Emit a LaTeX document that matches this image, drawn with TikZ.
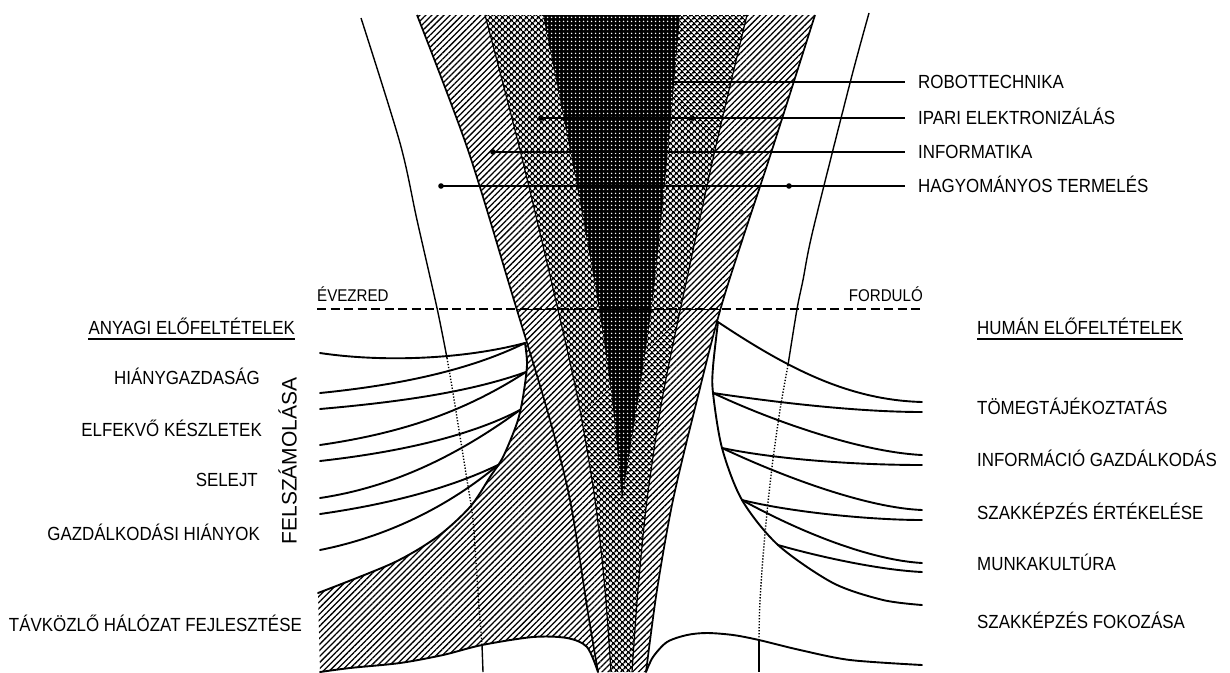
\documentclass[tikz,border=0pt]{standalone}
\usepackage{fontspec}
\usepackage{graphicx}
\setmainfont{Liberation Sans}
\usetikzlibrary{patterns.meta}
\newcommand{\narrowtxt}[1]{\scalebox{0.89}[1]{#1}}
\tikzset{
  hatchfill/.style={pattern={Lines[angle=45,distance=4.3pt,line width=1.3pt]},pattern color=black},
  crossfill/.style={pattern={Hatch[angle=45,distance=4pt,line width=1.7pt]},pattern color=black},
  dotfill/.style={pattern={Dots[distance=4pt,radius=0.95pt]},pattern color=white},
  edge/.style={line width=1.7pt,line join=round},
  inedge/.style={line width=1.2pt},
  fan/.style={line width=1.9pt,line cap=round},
  thinv/.style={line width=1.4pt},
  dotv/.style={line width=1.4pt,dash pattern=on 1.3pt off 1.7pt},
  dashline/.style={line width=1.4pt,dash pattern=on 9pt off 4.5pt},
  lbline/.style={line width=1.1pt},
  lbdot/.style={fill=black},
  lbl/.style={font=\fontsize{19}{22}\selectfont,inner sep=0pt,text height=13.6pt,text depth=0pt},
  toplbl/.style={font=\fontsize{19}{22}\selectfont,inner xsep=13pt,inner ysep=0pt,text height=13.4pt,text depth=0pt,anchor=west},
  smlbl/.style={font=\fontsize{17}{20}\selectfont,inner sep=0pt,text height=12.2pt,text depth=0pt},
}
\begin{document}
\begin{tikzpicture}[x=1pt,y=-1pt]
\useasboundingbox (0,0) rectangle (1230,672);
\fill[white] (0,0) rectangle (1230,672);

% left widened hatched region
\fill[hatchfill] plot[smooth] coordinates {(525,343) (527,365) (523,397) (517,423) (503,457) (490,477) (470,507) (437,537) (393,563) (318,593)}
  -- (320,672) -- plot[smooth] coordinates {(320,672) (350,668) (400,663) (443,655) (482,645) (533,637) (567,638) (587,647) (598,672)}
  -- plot[smooth] coordinates {(598,672) (588,613) (570,500) (548,413) (527,343)} -- cycle;

% funnel bands
\fill[hatchfill] plot[smooth] coordinates {(417,15) (468,150) (513,297) (548,413) (570,500) (588,613) (598,672)}
  -- plot[smooth] coordinates {(611,672) (605,590) (595,500) (578,400) (555,297) (520,150) (485,15)} -- cycle;
\fill[hatchfill] plot[smooth] coordinates {(747,15) (715,150) (683,297) (662,400) (647,500) (638,590) (632,672)}
  -- plot[smooth] coordinates {(646,672) (657,590) (673,500) (697,400) (724,297) (772,150) (815,15)} -- cycle;
\fill[crossfill] plot[smooth] coordinates {(485,15) (520,150) (555,297) (578,400) (595,500) (605,590) (611,672)}
  -- plot[smooth] coordinates {(632,672) (638,590) (647,500) (662,400) (683,297) (715,150) (747,15)} -- cycle;
\fill[black] plot[smooth] coordinates {(543,15) (570,150) (597,297) (612,400) (622,500)}
  -- plot[smooth] coordinates {(622,500) (638,400) (653,297) (668,150) (680,15)} -- cycle;
\fill[dotfill] plot[smooth] coordinates {(543,15) (570,150) (597,297) (612,400) (622,500)}
  -- plot[smooth] coordinates {(622,500) (638,400) (653,297) (668,150) (680,15)} -- cycle;

% funnel edges
\draw[edge] plot[smooth] coordinates {(417,15) (468,150) (513,297) (548,413) (570,500) (588,613) (598,672)};
\draw[edge] plot[smooth] coordinates {(815,15) (772,150) (724,297) (697,400) (673,500) (657,590) (646,672)};
\draw[inedge] plot[smooth] coordinates {(485,15) (520,150) (555,297) (578,400) (595,500) (605,590) (611,672)};
\draw[inedge] plot[smooth] coordinates {(747,15) (715,150) (683,297) (662,400) (647,500) (638,590) (632,672)};

% millennium line
\coordinate (dashL) at (317,309);
\coordinate (dashR) at (922,309);
\draw[dashline] (dashL) -- (dashR);
\draw[line width=0.9pt] (517,309) -- (721,309);
\node[smlbl,anchor=west] (evezred) at (317,295) {\narrowtxt{ÉVEZRED}};
\node[smlbl,anchor=east] (fordulo) at (923,295) {\narrowtxt{FORDULÓ}};

% thin side lines
\draw[thinv] plot[smooth] coordinates {(361,18) (400,143) (417,220) (437,308) (447,358)};
\draw[dotv] plot[smooth] coordinates {(447,358) (453,393) (467,480) (473,520) (478,593) (482,645)};
\draw[thinv] (482,645) -- (483,672);
\draw[thinv] plot[smooth] coordinates {(869,13) (850,83) (813,230) (803,280) (797,309) (788,365)};
\draw[dotv] plot[smooth] coordinates {(788,365) (780,410) (772,467) (765,533) (760,600) (759,640)};
\draw[thinv] (759,640) -- (759,672);

% left fan
\coordinate (P1) at (525,343);
\coordinate (P2) at (526,372);
\coordinate (P3) at (520,410);
\coordinate (P4) at (498,465);
\draw[fan] plot[smooth] coordinates {(525,343) (527,365) (523,397) (517,423) (503,457) (490,477) (470,507) (437,537) (393,563) (318,593)};
\draw[fan] (320,353) .. controls (380,362) and (460,360) .. (P1);
\draw[fan] (320,393) .. controls (400,385) and (470,370) .. (P1);
\draw[fan] (320,409) .. controls (400,402) and (470,392) .. (P2);
\draw[fan] (320,445) .. controls (410,432) and (470,408) .. (P2);
\draw[fan] (320,461) .. controls (400,452) and (470,436) .. (P3);
\draw[fan] (320,498) .. controls (400,486) and (465,450) .. (P3);
\draw[fan] (320,514) .. controls (390,504) and (450,488) .. (P4);
\draw[fan] (320,550) .. controls (390,536) and (450,505) .. (P4);

% right fan
\coordinate (Q0) at (718,322);
\coordinate (Q1) at (713,393);
\coordinate (Q2) at (722,448);
\coordinate (Q3) at (742,500);
\coordinate (Q4) at (778,545);
\draw[fan] plot[smooth] coordinates {(718,322) (713,367) (713,393) (722,448) (742,500) (778,545) (833,583) (883,600) (922,605)};
\draw[fan] (Q0) .. controls (790,370) and (850,400) .. (922,402);
\draw[fan] (Q1) .. controls (760,400) and (850,412) .. (922,412);
\draw[fan] (Q1) .. controls (770,420) and (860,452) .. (922,455);
\draw[fan] (Q2) .. controls (780,460) and (860,465) .. (922,465);
\draw[fan] (Q2) .. controls (790,480) and (870,508) .. (922,510);
\draw[fan] (Q3) .. controls (790,512) and (870,520) .. (922,520);
\draw[fan] (Q3) .. controls (800,532) and (870,560) .. (922,563);
\draw[fan] (Q4) .. controls (820,557) and (880,570) .. (922,572);

% bottom curves
\draw[fan] plot[smooth] coordinates {(320,672) (350,668) (400,663) (443,655) (482,645) (533,637) (567,638) (587,647) (598,672)};
\draw[fan] plot[smooth] coordinates {(646,672) (653,657) (667,642) (687,635) (707,633) (733,635) (759,640) (800,650) (850,660) (922,665)};

% top labels with lines
\node[toplbl] (robot) at (905,82) {\narrowtxt{ROBOTTECHNIKA}};
\node[toplbl] (ipari) at (905,118) {\narrowtxt{IPARI ELEKTRONIZÁLÁS}};
\node[toplbl] (info) at (905,152) {\narrowtxt{INFORMATIKA}};
\node[toplbl] (hagy) at (905,186) {\narrowtxt{HAGYOMÁNYOS TERMELÉS}};
\coordinate (robS) at (672,82);
\coordinate (ipS) at (541,118);
\coordinate (ipD) at (692,118);
\coordinate (infS) at (493,152);
\coordinate (infD) at (741,152);
\coordinate (hagS) at (441,186);
\coordinate (hagD) at (789,186);
\draw[lbline] (robS) -- (robot.west);
\draw[lbline] (ipS) -- (ipari.west);
\draw[lbline] (infS) -- (info.west);
\draw[lbline] (hagS) -- (hagy.west);
\foreach \d in {ipS,ipD,infS,infD,hagS,hagD} \fill[lbdot] (\d) circle (2.8pt);

% left labels
\node[lbl,anchor=east] (anyagi) at (295,328) {\narrowtxt{ANYAGI ELŐFELTÉTELEK}};
\draw[line width=1.1pt] ([yshift=-4pt]anyagi.south west) -- ([yshift=-4pt]anyagi.south east);
\node[lbl,anchor=east] (hiany) at (260,378) {\narrowtxt{HIÁNYGAZDASÁG}};
\node[lbl,anchor=east] (elfek) at (262,430) {\narrowtxt{ELFEKVŐ KÉSZLETEK}};
\node[lbl,anchor=east] (selejt) at (258,480) {\narrowtxt{SELEJT}};
\node[lbl,anchor=east] (gazd) at (260,534) {\narrowtxt{GAZDÁLKODÁSI HIÁNYOK}};
\node[lbl,anchor=east] (tavk) at (302,625) {\narrowtxt{TÁVKÖZLŐ HÁLÓZAT FEJLESZTÉSE}};
\node[font=\fontsize{21}{25}\selectfont,inner sep=0pt,text height=15pt,text depth=0pt,rotate=90] (felsz) at (289,461) {FELSZÁMOLÁSA};

% right labels
\node[lbl,anchor=west] (human) at (977,328) {\narrowtxt{HUMÁN ELŐFELTÉTELEK}};
\draw[line width=1.1pt] ([yshift=-4pt]human.south west) -- ([yshift=-4pt]human.south east);
\node[lbl,anchor=west] (tomeg) at (977,408) {\narrowtxt{TÖMEGTÁJÉKOZTATÁS}};
\node[lbl,anchor=west] (infgazd) at (977,460) {\narrowtxt{INFORMÁCIÓ GAZDÁLKODÁS}};
\node[lbl,anchor=west] (szakert) at (977,513) {\narrowtxt{SZAKKÉPZÉS ÉRTÉKELÉSE}};
\node[lbl,anchor=west] (munka) at (977,564) {\narrowtxt{MUNKAKULTÚRA}};
\node[lbl,anchor=west] (szakfok) at (977,622) {\narrowtxt{SZAKKÉPZÉS FOKOZÁSA}};
\end{tikzpicture}
\end{document}
